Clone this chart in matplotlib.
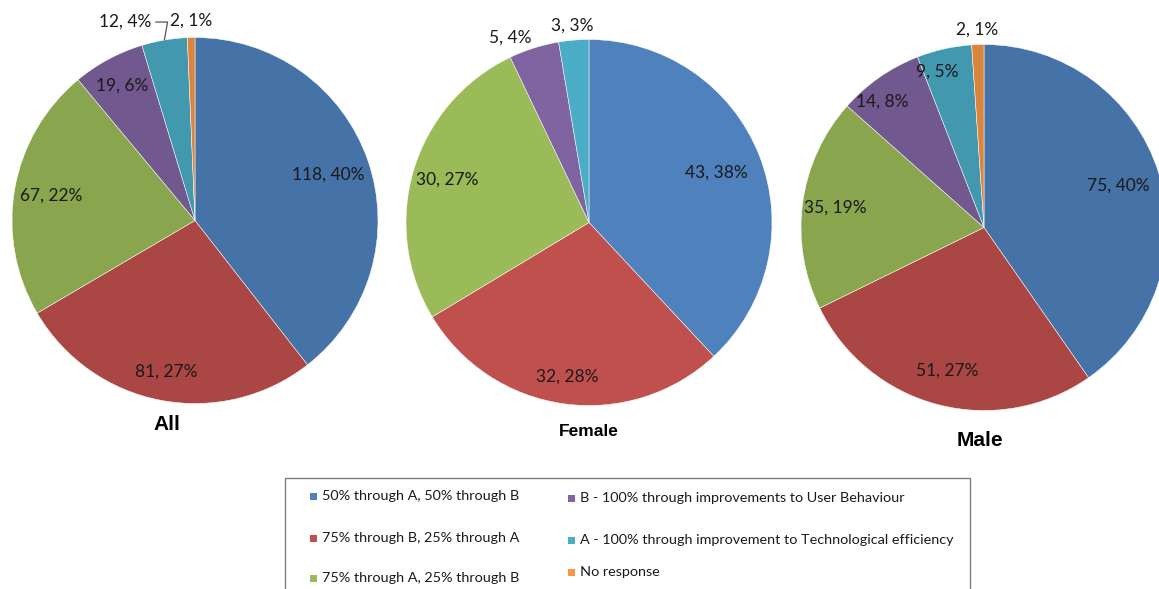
"""Three pie charts (All / Female / Male) sharing one legend."""

import matplotlib

matplotlib.use("Agg")
import matplotlib.pyplot as plt  # noqa: E402
import numpy as np  # noqa: E402
from matplotlib.patches import Rectangle  # noqa: E402

W, H = 1159, 589

categories = [
    "50% through A, 50% through B",
    "75% through B, 25% through A",
    "75% through A, 25% through B",
    "B - 100% through improvements to User Behaviour",
    "A - 100% through improvement to Technological efficiency",
    "No response",
]

all_counts = [118, 81, 67, 19, 12, 2]
all_pct = [40, 27, 22, 6, 4, 1]
female_counts = [43, 32, 30, 5, 3, 0]
female_pct = [38, 28, 27, 4, 3, 0]
male_counts = [75, 51, 35, 14, 9, 2]
male_pct = [40, 27, 19, 8, 5, 1]

DARK = ["#4572A7", "#AA4643", "#89A54E", "#71588F", "#4198AF", "#DB843D"]
LIGHT = ["#4F81BD", "#C0504D", "#9BBB59", "#8064A2", "#4BACC6", "#F79646"]

LABEL_FONT = ["Lato", "DejaVu Sans"]
TITLE_FONT = ["Liberation Sans Narrow", "Liberation Sans", "DejaVu Sans"]

# (title, counts, pct, colours, centre in px (y down), radius,
#  label radius factors, label x shifts, title pos, title size)
pies = [
    ("All", all_counts, all_pct, DARK, (195, 220.5), 183,
     [0.77, 0.84, 0.80, 0.84, 1.10, 1.09], [0, 0, 0, 0, -36, 0], (167, 425), 15),
    ("Female", female_counts, female_pct, LIGHT, (589, 222.5), 183,
     [0.75, 0.85, 0.81, 1.06, 1.08], [0, 0, 0, -20, 0], (589, 432), 12.5),
    ("Male", male_counts, male_pct, DARK, (984, 227.5), 183,
     [0.77, 0.81, 0.82, 0.84, 0.87, 1.08], [0, 0, 0, -14, -12, 0], (980, 440), 15),
]

fig = plt.figure(figsize=(W / 100, H / 100), dpi=100)
ax = fig.add_axes([0, 0, 1, 1])

for title, counts, pct, colors, (cx, cy), r, lr, ldx, tpos, tsize in pies:
    keep = [i for i, c in enumerate(counts) if c > 0]
    vals = [counts[i] for i in keep]
    cols = [colors[i] for i in keep]
    center = (cx, H - cy)
    wedges, _ = ax.pie(
        vals, colors=cols, startangle=90, counterclock=False,
        center=center, radius=r,
        wedgeprops=dict(edgecolor="white", linewidth=0.35),
    )
    for k, (i, w) in enumerate(zip(keep, wedges)):
        mid = np.deg2rad((w.theta1 + w.theta2) / 2)
        ux, uy = np.cos(mid), np.sin(mid)
        tx = center[0] + ux * r * lr[k] + ldx[k]
        ty = center[1] + uy * r * lr[k]
        text = f"{counts[i]}, {pct[i]}%"
        if lr[k] > 1 and ldx[k] < -20:
            # label pushed aside: tie it back to its slice with a short leader
            ax.annotate(
                text, xy=(center[0] + ux * r, center[1] + uy * r), xytext=(tx, ty),
                ha="center", va="center", fontsize=12.5, family=LABEL_FONT,
                color="#1a1a1a",
                arrowprops=dict(arrowstyle="-", color="#555555", lw=0.9,
                                shrinkA=1, shrinkB=0, relpos=(1, 0.5),
                                connectionstyle="angle,angleA=0,angleB=80,rad=0"),
            )
        else:
            ax.text(tx, ty, text, ha="center", va="center", fontsize=12.5,
                    family=LABEL_FONT, color="#1a1a1a")
    ax.text(tpos[0], H - tpos[1], title, ha="center", va="center",
            fontsize=tsize, fontweight="bold", family=TITLE_FONT)

# legend box, cut off by the bottom edge like the original
ax.add_patch(Rectangle((285, -10), 970 - 285, H - 478 + 10, facecolor="white",
                       edgecolor="#7f7f7f", linewidth=1.0))
legend_slots = [
    (310, 496), (310, 538), (310, 578),
    (568, 498), (568, 540), (568, 572),
]
for name, col, (lx, ly) in zip(categories, LIGHT, legend_slots):
    ax.add_patch(Rectangle((lx, H - ly - 3.5), 7, 7, facecolor=col, edgecolor="none"))
    ax.text(lx + 12, H - ly, name, ha="left", va="center", fontsize=10.4,
            family=LABEL_FONT, color="#1a1a1a")

ax.set_xlim(0, W)
ax.set_ylim(0, H)
ax.set_aspect("equal")
ax.axis("off")

fig.savefig("out.png", dpi=100)
